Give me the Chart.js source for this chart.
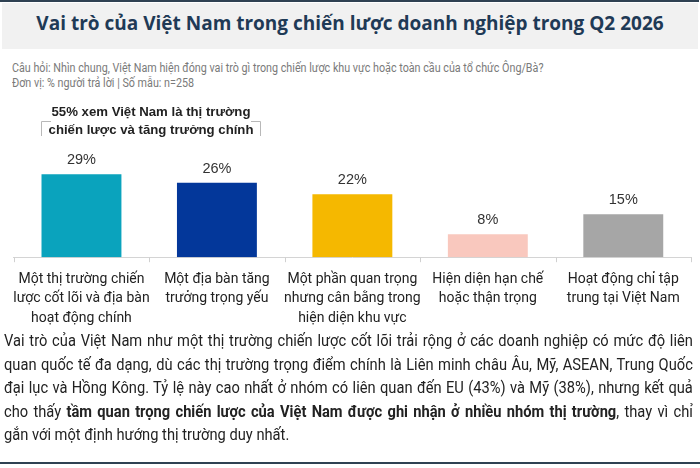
<!DOCTYPE html>
<html lang="vi">
<head>
<meta charset="utf-8">
<script src="https://cdn.jsdelivr.net/npm/chart.js@4"></script>
<style>
  html, body { margin: 0; padding: 0; background: #fff; }
  body { width: 700px; height: 468px; position: relative; overflow: hidden; }
  .topline { position: absolute; left: 0; top: 0; width: 699px; height: 2px; background: #2f4152; }
  .head { position: absolute; left: 2px; top: 3px; width: 696px; height: 46px; background: #f1f1f1; }
  .head h1 { margin: 0; font: bold 19px "Open Sans", sans-serif; color: #1f3a56; text-align: center; line-height: 40px; }
  .sub { position: absolute; left: 12px; top: 60px; width: 800px; font: 12.5px Roboto, sans-serif; color: #7a7a7a; line-height: 15px;
         transform: scaleX(0.86); transform-origin: left top; }
  #wrap { position: absolute; left: 0; top: 98px; width: 700px; height: 242px; }
  .para { position: absolute; left: 4px; top: 329px; width: 774px; font: 16.5px Roboto, sans-serif; color: #222; line-height: 23.5px;
          transform: scaleX(0.89); transform-origin: left top; }
  .para div { text-align: justify; text-align-last: justify; white-space: nowrap; }
  .para div.last { text-align-last: left; }
  .botline { position: absolute; left: 0; top: 462px; width: 700px; height: 2px; background: #2f4152; }
</style>
</head>
<body>
<div class="topline"></div>
<div class="head"><h1>Vai trò của Việt Nam trong chiến lược doanh nghiệp trong Q2 2026</h1></div>
<div class="sub">
  Câu hỏi: Nhìn chung, Việt Nam hiện đóng vai trò gì trong chiến lược khu vực hoặc toàn cầu của tổ chức Ông/Bà?<br>
  Đơn vị: % người trả lời | Số mẫu: n=258
</div>
<div id="wrap"><canvas id="chart"></canvas></div>
<div class="para">
  <div>Vai trò của Việt Nam như một thị trường chiến lược cốt lõi trải rộng ở các doanh nghiệp có mức độ liên</div>
  <div>quan quốc tế đa dạng, dù các thị trường trọng điểm chính là Liên minh châu Âu, Mỹ, ASEAN, Trung Quốc</div>
  <div>đại lục và Hồng Kông. Tỷ lệ này cao nhất ở nhóm có liên quan đến EU (43%) và Mỹ (38%), nhưng kết quả</div>
  <div>cho thấy <b>tầm quan trọng chiến lược của Việt Nam được ghi nhận ở nhiều nhóm thị trường</b>, thay vì chỉ</div>
  <div class="last">gắn với một định hướng thị trường duy nhất.</div>
</div>
<div class="botline"></div>

<script>
// Daten
const categories = [
  ["Một thị trường chiến", "lược cốt lõi và địa bàn", "hoạt động chính"],
  ["Một địa bàn tăng", "trưởng trọng yếu"],
  ["Một phần quan trọng", "nhưng cân bằng trong", "hiện diện khu vực"],
  ["Hiện diện hạn chế", "hoặc thận trọng"],
  ["Hoạt động chỉ tập", "trung tại Việt Nam"]
];
const values = [29, 26, 22, 8, 15];
const barColors = ["#0aa3bd", "#03379a", "#f5b800", "#f9c8be", "#a6a6a6"];
const bracketText = ["55% xem Việt Nam là thị trường", "chiến lược và tăng trưởng chính"];

// Werte über den Balken
const valueLabels = {
  id: "valueLabels",
  afterDatasetsDraw(chart) {
    const ctx = chart.ctx;
    const meta = chart.getDatasetMeta(0);
    ctx.save();
    ctx.font = "14.5px 'Liberation Sans', Arial, sans-serif";
    ctx.fillStyle = "#333";
    ctx.textAlign = "center";
    ctx.textBaseline = "middle";
    meta.data.forEach((bar, i) => {
      ctx.fillText(values[i] + "%", bar.x, bar.y - 14);
    });
    ctx.restore();
  }
};

// kleine Trennstriche unter der Achse, zwischen den Kategorien
const sepTicks = {
  id: "sepTicks",
  afterDraw(chart) {
    const ctx = chart.ctx;
    const xs = chart.scales.x;
    const area = chart.chartArea;
    const step = xs.getPixelForValue(1) - xs.getPixelForValue(0);
    ctx.save();
    ctx.strokeStyle = "#d0d0d0";
    ctx.lineWidth = 1;
    ctx.beginPath();
    for (let i = 0; i <= categories.length; i++) {
      const x = Math.round(xs.getPixelForValue(0) - step / 2 + i * step) + 0.5;
      ctx.moveTo(x, area.bottom);
      ctx.lineTo(x, area.bottom + 5);
    }
    ctx.stroke();
    ctx.restore();
  }
};

// Klammer über den ersten beiden Kategorien
const bracket = {
  id: "bracket",
  afterDraw(chart) {
    const ctx = chart.ctx;
    const meta = chart.getDatasetMeta(0);
    const b0 = meta.data[0], b1 = meta.data[1];
    const left = Math.round(b0.x - b0.width / 2 - 1);
    const right = Math.round(b1.x + b1.width / 2 + 4);
    const mid = (left + right) / 2;
    ctx.save();
    ctx.strokeStyle = "#b8b8b8";
    ctx.lineWidth = 1;
    ctx.beginPath();
    ctx.moveTo(left + 10, 23.5); ctx.lineTo(left + 0.5, 23.5); ctx.lineTo(left + 0.5, 38);
    ctx.moveTo(right - 10, 23.5); ctx.lineTo(right - 0.5, 23.5); ctx.lineTo(right - 0.5, 38);
    ctx.stroke();
    ctx.font = "bold 13.2px 'Liberation Sans', Arial, sans-serif";
    ctx.fillStyle = "#222";
    ctx.textAlign = "center";
    ctx.textBaseline = "middle";
    ctx.fillText(bracketText[0], mid, 14);
    ctx.fillText(bracketText[1], mid, 32);
    ctx.restore();
  }
};

new Chart(document.getElementById("chart"), {
  type: "bar",
  data: {
    labels: categories,
    datasets: [{
      data: values,
      backgroundColor: barColors,
      borderWidth: 0,
      categoryPercentage: 0.59,
      barPercentage: 1
    }]
  },
  options: {
    responsive: true,
    maintainAspectRatio: false,
    animation: false,
    layout: { padding: { left: 13, right: 9, top: 59, bottom: 0 } },
    plugins: { legend: { display: false }, tooltip: { enabled: false } },
    scales: {
      x: {
        grid: { display: false, drawTicks: false },
        border: { display: true, color: "#d4d4d4", width: 1 },
        ticks: {
          color: "#222",
          padding: 12,
          maxRotation: 0,
          autoSkip: false,
          font: { family: "Roboto, sans-serif", size: 14, lineHeight: 1.4 }
        }
      },
      y: {
        display: false,
        min: 0,
        max: 35
      }
    }
  },
  plugins: [valueLabels, sepTicks, bracket]
});
</script>
</body>
</html>
